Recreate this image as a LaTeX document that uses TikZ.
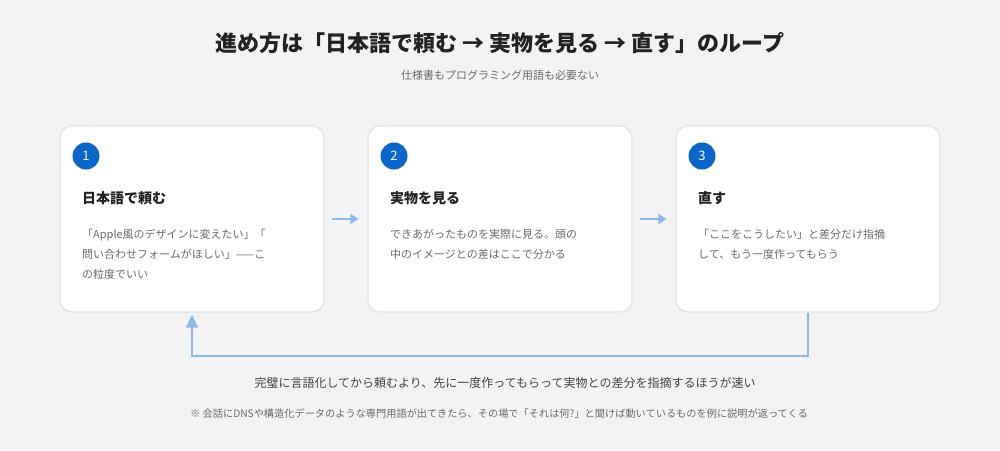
\documentclass[tikz,border=0pt]{standalone}
\usepackage{fontspec}
\setmainfont{Noto Sans CJK JP}
\usepackage{tikz}
\usetikzlibrary{arrows.meta,calc,positioning}

\definecolor{bgcol}{HTML}{F3F3F6}
\definecolor{cardline}{HTML}{E2E3E8}
\definecolor{stepblue}{HTML}{0A66C8}
\definecolor{flowblue}{HTML}{8DB8EC}
\definecolor{headcol}{HTML}{222222}
\definecolor{bodycol}{HTML}{6A6A6A}

\begin{document}
\begin{tikzpicture}[
    x=1pt, y=-1pt,
    card/.style={draw=cardline, line width=1.2pt, fill=white, rounded corners=12pt, minimum width=264pt, minimum height=186pt},
    num/.style={circle, fill=stepblue, text=white, minimum size=27pt, inner sep=0pt, font=\fontsize{13}{13}\selectfont},
    head/.style={anchor=west, inner sep=0pt, text=headcol, font=\bfseries\fontsize{14}{14}\selectfont},
    body/.style={anchor=north west, inner sep=0pt, align=left, text=bodycol, font=\fontsize{11}{20}\selectfont},
    arrow/.style={-{Triangle[length=8pt, width=10pt]}, draw=flowblue, line width=2pt},
    loop/.style={-{Triangle[length=13pt, width=12pt]}, draw=flowblue, line width=2pt}
]
    \useasboundingbox[fill=bgcol] (0,0) rectangle (1000,450);

    % Title
    \node[text=headcol, font=\bfseries\fontsize{22}{22}\selectfont] (title) at (500,43) {進め方は「日本語で頼む → 実物を見る → 直す」のループ};
    \node[text=bodycol, font=\fontsize{11}{11}\selectfont] (subtitle) at (500,75) {仕様書もプログラミング用語も必要ない};

    % Step 1
    \node[card] (card1) at (192,219) {};
    \node[num] (n1) at (86,156) {1};
    \node[head] (h1) at (82,198) {日本語で頼む};
    \node[body] (b1) at (82,229) {「Apple風のデザインに変えたい」「\\問い合わせフォームがほしい」——こ\\の粒度でいい};

    % Step 2
    \node[card] (card2) at (500,219) {};
    \node[num] (n2) at (394,156) {2};
    \node[head] (h2) at (390,198) {実物を見る};
    \node[body] (b2) at (390,229) {できあがったものを実際に見る。頭の\\中のイメージとの差はここで分かる};

    % Step 3
    \node[card] (card3) at (808,219) {};
    \node[num] (n3) at (702,156) {3};
    \node[head] (h3) at (698,198) {直す};
    \node[body] (b3) at (698,229) {「ここをこうしたい」と差分だけ指摘\\して、もう一度作ってもらう};

    % Arrows
    \draw[arrow] ($(card1.east)+(7,0)$) -- ($(card2.west)+(-9,0)$);
    \draw[arrow] ($(card2.east)+(7,0)$) -- ($(card3.west)+(-9,0)$);
    \draw[loop] (card3.south) -- ++(0,43) -| ($(card1.south)+(0,2)$);

    % Notes
    \node[text=headcol!85, font=\fontsize{12}{12}\selectfont] (summary) at (505,383) {完璧に言語化してから頼むより、先に一度作ってもらって実物との差分を指摘するほうが速い};
    \node[text=bodycol, font=\fontsize{10.2}{10.2}\selectfont] (note) at (499,414) {※ 会話にDNSや構造化データのような専門用語が出てきたら、その場で「それは何?」と聞けば動いているものを例に説明が返ってくる};
\end{tikzpicture}
\end{document}
